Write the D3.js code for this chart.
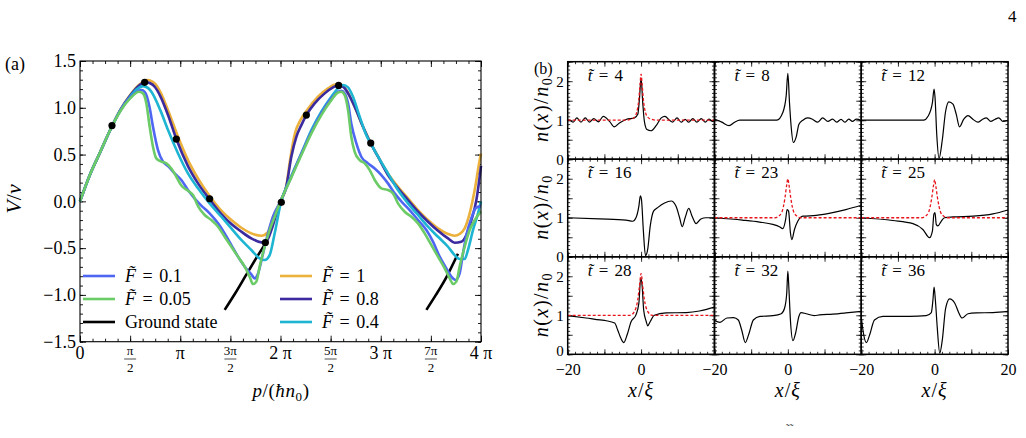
<!DOCTYPE html>
<html>
<head>
<meta charset="utf-8">
<script src="https://cdn.jsdelivr.net/npm/d3@7"></script>
<style>
body { margin: 0; background: #fff; }
svg text { font-family: "Liberation Serif", "Times New Roman", "DejaVu Serif", serif !important; fill: #000; }
</style>
</head>
<body>
<div id="chart"></div>
<script>
// panel (a): V/v against p, p is given in units of pi
const xTickLabels = ["0", "π/2", "π", "3π/2", "2 π", "5π/2", "3 π", "7π/2", "4 π"]
const yTicksA = [-1.5, -1.0, -0.5, 0.0, 0.5, 1.0, 1.5]

const F1 = [[0,0],[0.1,0.288],[0.2,0.523],[0.3,0.76],[0.4,0.975],[0.5,1.136],[0.598,1.253],[0.672,1.296],[0.745,1.26],[0.801,1.171],[0.878,0.975],[0.978,0.69],[1.077,0.441],[1.177,0.245],[1.293,0.057],[1.41,-0.1],[1.51,-0.2],[1.609,-0.282],[1.709,-0.342],[1.809,-0.367],[1.875,-0.33],[1.928,-0.16],[2.0,0.0],[2.058,0.16],[2.095,0.44],[2.145,0.73],[2.2,0.87],[2.258,0.965],[2.374,1.118],[2.474,1.207],[2.557,1.25],[2.607,1.245],[2.657,1.189],[2.74,1.011],[2.823,0.797],[2.9,0.626],[2.973,0.477],[3.072,0.299],[3.172,0.156],[3.272,0.032],[3.372,-0.093],[3.471,-0.2],[3.571,-0.289],[3.671,-0.349],[3.737,-0.367],[3.787,-0.349],[3.837,-0.289],[3.887,-0.128],[3.937,0.121],[3.987,0.441],[4.0,0.51]]
const F08 = [[0,0],[0.1,0.288],[0.2,0.523],[0.3,0.76],[0.4,0.972],[0.5,1.13],[0.598,1.245],[0.645,1.275],[0.7,1.262],[0.745,1.225],[0.801,1.125],[0.878,0.922],[0.961,0.666],[1.077,0.377],[1.177,0.192],[1.293,0.021],[1.41,-0.136],[1.51,-0.243],[1.609,-0.324],[1.709,-0.396],[1.809,-0.438],[1.849,-0.44],[1.909,-0.307],[1.96,-0.13],[2.0,0.0],[2.058,0.16],[2.108,0.477],[2.158,0.69],[2.208,0.815],[2.258,0.922],[2.341,1.047],[2.441,1.154],[2.524,1.218],[2.574,1.239],[2.624,1.225],[2.674,1.154],[2.74,1.011],[2.823,0.797],[2.9,0.619],[2.973,0.477],[3.072,0.281],[3.172,0.139],[3.272,0.014],[3.372,-0.111],[3.471,-0.218],[3.571,-0.314],[3.671,-0.396],[3.737,-0.442],[3.804,-0.431],[3.854,-0.36],[3.904,-0.2],[3.954,0.014],[4.0,0.38]]
const F04 = [[0,0],[0.1,0.288],[0.2,0.523],[0.3,0.76],[0.4,0.97],[0.5,1.12],[0.57,1.2],[0.628,1.232],[0.68,1.21],[0.712,1.171],[0.801,0.975],[0.878,0.762],[0.978,0.512],[1.077,0.299],[1.177,0.139],[1.293,-0.022],[1.41,-0.164],[1.51,-0.289],[1.609,-0.413],[1.709,-0.52],[1.792,-0.609],[1.842,-0.627],[1.892,-0.574],[1.942,-0.342],[2.0,-0.03],[2.108,0.27],[2.208,0.512],[2.308,0.762],[2.407,0.958],[2.507,1.118],[2.574,1.207],[2.624,1.243],[2.674,1.218],[2.723,1.118],[2.79,0.904],[2.856,0.708],[2.9,0.619],[2.973,0.477],[3.072,0.299],[3.172,0.121],[3.272,-0.022],[3.372,-0.146],[3.471,-0.271],[3.571,-0.378],[3.671,-0.485],[3.737,-0.574],[3.787,-0.616],[3.837,-0.616],[3.87,-0.52],[3.92,-0.307],[3.97,-0.128],[4.0,0.0]]
const F01 = [[0,0],[0.1,0.288],[0.2,0.523],[0.3,0.76],[0.4,0.965],[0.5,1.11],[0.612,1.19],[0.645,1.17],[0.668,1.12],[0.695,1.0],[0.728,0.797],[0.778,0.548],[0.828,0.424],[0.878,0.377],[0.944,0.299],[1.011,0.228],[1.077,0.121],[1.144,0.03],[1.21,-0.045],[1.293,-0.128],[1.377,-0.235],[1.443,-0.342],[1.51,-0.467],[1.576,-0.591],[1.643,-0.698],[1.709,-0.78],[1.742,-0.823],[1.776,-0.77],[1.825,-0.56],[1.875,-0.342],[1.925,-0.164],[2.0,0.0],[2.108,0.263],[2.208,0.512],[2.308,0.744],[2.407,0.94],[2.507,1.1],[2.574,1.171],[2.607,1.182],[2.64,1.154],[2.674,1.047],[2.706,0.833],[2.757,0.619],[2.806,0.477],[2.873,0.406],[2.94,0.352],[3.006,0.281],[3.072,0.192],[3.139,0.085],[3.205,0.0],[3.288,-0.093],[3.372,-0.2],[3.455,-0.307],[3.521,-0.431],[3.588,-0.591],[3.654,-0.716],[3.704,-0.805],[3.747,-0.841],[3.787,-0.77],[3.82,-0.56],[3.854,-0.36],[3.904,-0.18],[3.95,-0.07],[4.0,-0.05]]
const F005 = [[0,0],[0.1,0.288],[0.2,0.523],[0.3,0.76],[0.4,0.96],[0.5,1.1],[0.589,1.171],[0.628,1.154],[0.662,1.047],[0.695,0.797],[0.728,0.584],[0.761,0.459],[0.811,0.424],[0.861,0.406],[0.911,0.352],[0.961,0.263],[1.011,0.17],[1.077,0.114],[1.127,0.067],[1.177,-0.05],[1.244,-0.146],[1.31,-0.2],[1.377,-0.271],[1.443,-0.378],[1.51,-0.485],[1.576,-0.591],[1.643,-0.698],[1.692,-0.805],[1.726,-0.884],[1.759,-0.858],[1.792,-0.698],[1.842,-0.485],[1.892,-0.307],[1.942,-0.164],[2.0,0.0],[2.108,0.256],[2.208,0.495],[2.308,0.726],[2.407,0.922],[2.507,1.082],[2.574,1.164],[2.607,1.171],[2.64,1.136],[2.674,0.975],[2.706,0.69],[2.74,0.53],[2.79,0.441],[2.84,0.406],[2.89,0.334],[2.94,0.228],[3.006,0.139],[3.072,0.121],[3.122,0.085],[3.172,-0.022],[3.239,-0.111],[3.305,-0.164],[3.372,-0.235],[3.438,-0.342],[3.505,-0.467],[3.571,-0.591],[3.638,-0.716],[3.688,-0.823],[3.721,-0.884],[3.754,-0.858],[3.787,-0.698],[3.837,-0.485],[3.887,-0.307],[3.937,-0.2],[4.0,-0.11]]
const ground1 = [[1.443,-1.16],[1.55,-0.98],[1.65,-0.8],[1.75,-0.62],[1.862,-0.43]]
const ground2 = [[3.455,-1.16],[3.55,-1.0],[3.65,-0.82],[3.77,-0.56]]
const dotsP = [0.319, 0.645, 0.961, 1.293, 1.849, 2.008, 2.258, 2.58, 2.9]
const dotsV = [0.81, 1.272, 0.666, 0.028, -0.44, -0.01, 0.922, 1.239, 0.623]

const legendLabels = ["0.1", "0.05", "Ground state", "1", "0.8", "0.4"]

// panel (b): density n(x)/n0 at nine times
const tVals = [4, 8, 12, 16, 23, 25, 28, 32, 36]
const n4 = [[-20,1.0],[-19.5,1.0],[-18.5,0.95],[-17.5,1.06],[-16.4,0.95],[-15.2,1.06],[-14.1,0.95],[-12.9,1.04],[-11.6,0.96],[-10.3,1.1],[-8.6,0.97],[-7.3,0.83],[-5.9,0.93],[-4.1,1.02],[-1.8,1.06],[-0.9,1.15],[-0.45,1.54],[0,2.08],[0.45,1.45],[0.9,0.97],[1.6,0.76],[2.7,0.73],[4.1,0.86],[5.5,1.06],[6.5,1.1],[7.7,1.0],[8.6,0.95],[9.8,1.06],[10.9,0.95],[12,1.02],[13,0.95],[14.1,1.04],[15.2,0.95],[16.4,1.04],[17.5,0.95],[18.5,1.03],[19.5,0.97],[20,1.0]]
const n8 = [[-20,1.03],[-18,0.95],[-16,0.86],[-14.5,0.95],[-13.1,1.0],[-8,1.0],[-3,1.0],[-1.4,1.19],[-0.45,1.63],[0,2.2],[0.45,1.45],[0.9,0.84],[1.5,0.43],[2.3,0.58],[3.0,0.89],[4.1,1.0],[5.4,1.06],[6.8,1.02],[8.1,0.95],[9.5,1.06],[10.9,0.97],[12.2,1.03],[13.3,0.95],[14.5,1.02],[15.6,0.95],[16.6,1.03],[17.6,0.97],[18.7,1.03],[20,1.0]]
const n12 = [[-20,1.0],[-10,1.0],[-3,1.0],[-1.8,1.1],[-0.6,1.45],[-0.15,1.8],[0.1,1.6],[0.6,0.6],[1.2,0.02],[2.1,0.5],[3.0,1.23],[3.9,1.47],[5,1.41],[5.9,1.15],[6.8,0.83],[7.9,1.02],[9.1,1.12],[10.5,1.02],[11.8,0.95],[13,1.02],[14.1,1.06],[15.3,0.97],[16.4,1.02],[17.5,1.06],[18.6,0.97],[20,1.0]]
const n16 = [[-20,1.0],[-11.4,0.97],[-4.1,0.94],[-2.3,0.91],[-1.4,1.0],[-0.6,1.3],[-0.2,1.56],[0.1,1.47],[0.6,0.7],[1.2,0.03],[1.8,0.19],[2.5,0.79],[3.4,1.17],[4.5,1.26],[6.4,1.38],[8.2,1.43],[9.5,1.3],[10.5,1.0],[11.2,0.77],[12,1.0],[13,1.24],[13.9,1.04],[15,0.85],[16.3,0.97],[17.7,1.0],[20,1.0]]
const n23 = [[-20,1.0],[-12.4,0.94],[-7.7,0.89],[-4.1,0.83],[-2.3,0.77],[-1.4,0.72],[-0.6,0.96],[-0.2,1.21],[0.2,1.17],[0.7,0.62],[1.1,0.44],[1.8,0.7],[2.7,0.91],[4.1,1.04],[7.7,1.06],[12.2,1.13],[15.8,1.21],[20,1.32]]
const n25 = [[-20,1.0],[-11.4,0.93],[-5.9,0.85],[-3.2,0.7],[-1.4,0.49],[-0.6,0.66],[-0.2,1.09],[0.1,1.13],[0.45,0.83],[0.9,0.79],[1.8,0.91],[2.7,1.0],[5,1.02],[10.5,1.04],[15.9,1.1],[20,1.2]]
const n28 = [[-20,0.99],[-15,0.93],[-11.2,0.88],[-9.5,0.86],[-7.2,0.8],[-6.4,0.63],[-5.5,0.41],[-4.7,0.3],[-3.8,0.5],[-2.7,0.84],[-1.4,1.01],[-0.6,1.31],[-0.1,1.96],[0.3,1.74],[0.7,1.14],[1.4,0.84],[1.8,0.73],[2.5,0.84],[3.6,1.0],[6.8,1.06],[12.3,1.07],[15.9,1.11],[20,1.21]]
const n32 = [[-20,0.87],[-18.5,0.82],[-16.6,0.93],[-14.8,0.94],[-13.5,0.88],[-12.6,0.63],[-11.6,0.3],[-10.7,0.5],[-9.4,0.88],[-7.6,0.97],[-4.1,0.99],[-1.8,1.04],[-0.9,1.18],[-0.3,1.57],[0,2.13],[0.3,1.66],[0.7,0.88],[1.4,0.35],[2.1,0.54],[3.0,0.97],[3.6,1.07],[5,1.04],[7.2,0.99],[8.6,1.01],[12.2,1.03],[15.8,1.06],[20,1.1]]
const n36 = [[-20,0.97],[-19.4,0.54],[-18.6,0.3],[-17.7,0.5],[-16.4,0.88],[-14.1,0.97],[-6.8,0.97],[-2.3,0.99],[-0.9,1.07],[-0.45,1.4],[-0.15,1.72],[0.2,1.4],[0.7,0.71],[1.4,0.03],[2.1,0.37],[3,1.18],[4.1,1.42],[5.5,1.31],[6.6,1.06],[7.5,0.93],[9.1,1.04],[11.4,1.06],[15.9,1.07],[20,1.1]]
const sol4 = [[-20,1],[-4,1],[-3,1.02],[-2,1.06],[-1.2,1.2],[-0.6,1.55],[-0.3,1.9],[0,2.18],[0.3,1.9],[0.6,1.55],[1.2,1.2],[2,1.06],[3,1.02],[4,1],[20,1]]
const sol23 = [[-20,1],[-3.5,1],[-2.5,1.04],[-1.6,1.15],[-0.8,1.5],[-0.3,1.85],[0,2.0],[0.3,1.85],[0.8,1.5],[1.6,1.15],[2.5,1.04],[3.5,1],[20,1]]
const sol25 = [[-20,1],[-3.5,1],[-2.5,1.04],[-1.6,1.15],[-0.8,1.5],[-0.3,1.83],[0,1.98],[0.3,1.83],[0.8,1.5],[1.6,1.15],[2.5,1.04],[3.5,1],[20,1]]
const sol28 = [[-20,1],[-3,1],[-1.8,1.1],[-0.9,1.4],[-0.45,1.74],[0,2.07],[0.45,1.74],[0.9,1.4],[1.8,1.1],[3,1],[20,1]]

const densities = [n4, n8, n12, n16, n23, n25, n28, n32, n36]
const solitons = [sol4, null, null, null, sol23, sol25, sol28, null, null]

const width = 1026, height = 438

let svg = d3.select("#chart").append("svg")
    .attr("width", width).attr("height", height)
    .attr("viewBox", [0, 0, width, height])
    .style("display", "block")

// ---------- panel (a) ----------
const ma = {left: 80, right: 481, top: 61, bottom: 341.7}
let x = d3.scaleLinear().domain([0, 4]).range([ma.left, ma.right])
let y = d3.scaleLinear().domain([-1.5, 1.5]).range([ma.bottom, ma.top])

const seriesA = [
    {data: F1, color: "#ebb13b"},
    {data: F08, color: "#3b2b9f"},
    {data: F04, color: "#1db5d2"},
    {data: F01, color: "#4f66f2"},
    {data: F005, color: "#6bcb66"}
]

// inward ticks on all four sides
function ticksA(axisFn, scale, vals, len, transform) {
    svg.append("g")
        .attr("transform", transform)
        .call(axisFn(scale).tickValues(vals).tickSize(-len).tickFormat(""))
        .call(g => g.select(".domain").remove())
        .call(g => g.selectAll("line").attr("stroke-width", 0.9))
}
const xMinor = d3.range(0, 4.001, 0.125), xMajor = d3.range(0, 4.001, 0.5)
const yMinor = d3.range(-1.5, 1.501, 0.1), yMajor = yTicksA
ticksA(d3.axisBottom, x, xMinor, 3, `translate(0,${ma.bottom})`)
ticksA(d3.axisBottom, x, xMajor, 6, `translate(0,${ma.bottom})`)
ticksA(d3.axisTop, x, xMinor, 3, `translate(0,${ma.top})`)
ticksA(d3.axisTop, x, xMajor, 6, `translate(0,${ma.top})`)
ticksA(d3.axisLeft, y, yMinor, 3, `translate(${ma.left},0)`)
ticksA(d3.axisLeft, y, yMajor, 6, `translate(${ma.left},0)`)
ticksA(d3.axisRight, y, yMinor, 3, `translate(${ma.right},0)`)
ticksA(d3.axisRight, y, yMajor, 6, `translate(${ma.right},0)`)

// y tick labels
svg.append("g")
    .attr("transform", `translate(${ma.left},0)`)
    .call(d3.axisLeft(y).tickValues(yTicksA).tickSize(0).tickPadding(4).tickFormat(d3.format(".1f")))
    .call(g => g.select(".domain").remove())
    .call(g => g.selectAll("text").attr("font-size", 18))

// x tick labels, fractions drawn as stacked text
xTickLabels.forEach((lab, i) => {
    const px = x(i * 0.5)
    if (lab.includes("/")) {
        const [num, den] = lab.split("/")
        svg.append("text").attr("x", px).attr("y", 355).attr("text-anchor", "middle")
            .attr("font-size", 13).text(num)
        svg.append("line").attr("x1", px - 6).attr("x2", px + 6).attr("y1", 359).attr("y2", 359)
            .attr("stroke", "#000").attr("stroke-width", 0.7)
        svg.append("text").attr("x", px).attr("y", 372).attr("text-anchor", "middle")
            .attr("font-size", 13).text(den)
    } else {
        svg.append("text").attr("x", px).attr("y", 359).attr("text-anchor", "middle")
            .attr("font-size", 18).text(lab)
    }
})

let line = d3.line().x(d => x(d[0])).y(d => y(d[1])).curve(d3.curveMonotoneX)

let plotA = svg.append("g")
plotA.append("path").attr("d", line(ground1)).attr("fill", "none").attr("stroke", "#000").attr("stroke-width", 2.6)
plotA.append("path").attr("d", line(ground2)).attr("fill", "none").attr("stroke", "#000").attr("stroke-width", 2.6)
plotA.selectAll(".curve")
    .data(seriesA)
    .join("path")
    .attr("class", "curve")
    .attr("d", d => line(d.data))
    .attr("fill", "none")
    .attr("stroke", d => d.color)
    .attr("stroke-width", 2.6)
    .attr("stroke-linejoin", "round")

plotA.selectAll(".dot")
    .data(dotsP)
    .join("circle")
    .attr("class", "dot")
    .attr("cx", d => x(d))
    .attr("cy", (d, i) => y(dotsV[i]))
    .attr("r", 3.6)
    .attr("fill", "#000")

svg.append("rect")
    .attr("x", ma.left).attr("y", ma.top)
    .attr("width", ma.right - ma.left).attr("height", ma.bottom - ma.top)
    .attr("fill", "none").attr("stroke", "#000").attr("stroke-width", 1.1)

// legend
const legendColors = ["#4f66f2", "#6bcb66", "#000", "#ebb13b", "#3b2b9f", "#1db5d2"]
legendLabels.forEach((lab, i) => {
    const col = Math.floor(i / 3), row = i % 3
    const lx = col === 0 ? 83 : 280, ly = 276 + row * 23
    svg.append("line").attr("x1", lx).attr("x2", lx + 32).attr("y1", ly).attr("y2", ly)
        .attr("stroke", legendColors[i]).attr("stroke-width", 2.6)
    let t = svg.append("text").attr("x", lx + 42).attr("y", ly + 6).attr("font-size", 18)
    if (lab === "Ground state") {
        t.text(lab)
    } else {
        t.attr("word-spacing", 2)
        t.append("tspan").attr("font-style", "italic").text("F\u0303")
        t.append("tspan").text(" = " + lab)
    }
})

svg.append("text").attr("x", 5).attr("y", 70).attr("font-size", 18).text("(a)")

let vlab = svg.append("text").attr("transform", "translate(21,199) rotate(-90)")
    .attr("text-anchor", "middle").attr("font-size", 22)
vlab.append("tspan").attr("font-style", "italic").text("V")
vlab.append("tspan").text("/")
vlab.append("tspan").attr("font-style", "italic").text("v")

let plab = svg.append("text").attr("x", 281).attr("y", 397).attr("text-anchor", "middle")
    .attr("font-size", 19).attr("letter-spacing", 0.6)
plab.append("tspan").attr("font-style", "italic").text("p")
plab.append("tspan").text("/(")
plab.append("tspan").attr("font-style", "italic").text("ħn")
plab.append("tspan").attr("font-size", 13).attr("dy", 4).text("0")
plab.append("tspan").attr("dy", -4).text(")")

// ---------- panel (b) ----------
const mb = {left: 567.7, right: 1008, top: 61.7, bottom: 354.3}
const cellW = (mb.right - mb.left) / 3, cellH = (mb.bottom - mb.top) / 3

const bxMinor = d3.range(-20, 20.01, 2), bxMajor = d3.range(-20, 20.01, 10)
const byMinor = d3.range(0, 2.501, 0.1), byMajor = d3.range(0, 2.501, 0.5)

tVals.forEach((tv, i) => {
    const col = i % 3, row = Math.floor(i / 3)
    const x0 = mb.left + col * cellW, y0 = mb.top + row * cellH
    let xb = d3.scaleLinear().domain([-20, 20]).range([x0, x0 + cellW])
    let yb = d3.scaleLinear().domain([0, 2.5]).range([y0 + cellH, y0])
    let g = svg.append("g")

    const tk = (axisFn, scale, vals, len, tr) => g.append("g").attr("transform", tr)
        .call(axisFn(scale).tickValues(vals).tickSize(-len).tickFormat(""))
        .call(a => a.select(".domain").remove())
        .call(a => a.selectAll("line").attr("stroke-width", 0.8))
    tk(d3.axisBottom, xb, bxMinor, 2.5, `translate(0,${y0 + cellH})`)
    tk(d3.axisBottom, xb, bxMajor, 5, `translate(0,${y0 + cellH})`)
    tk(d3.axisTop, xb, bxMinor, 2.5, `translate(0,${y0})`)
    tk(d3.axisTop, xb, bxMajor, 5, `translate(0,${y0})`)
    tk(d3.axisLeft, yb, byMinor, 2.5, `translate(${x0},0)`)
    tk(d3.axisLeft, yb, byMajor, 5, `translate(${x0},0)`)
    tk(d3.axisRight, yb, byMinor, 2.5, `translate(${x0 + cellW},0)`)
    tk(d3.axisRight, yb, byMajor, 5, `translate(${x0 + cellW},0)`)

    let lineB = d3.line().x(d => xb(d[0])).y(d => yb(d[1])).curve(d3.curveMonotoneX)
    g.append("path").attr("d", lineB(densities[i])).attr("fill", "none")
        .attr("stroke", "#000").attr("stroke-width", 1.2)
    if (solitons[i]) {
        g.append("path").attr("d", lineB(solitons[i])).attr("fill", "none")
            .attr("stroke", "#e8141b").attr("stroke-width", 1.3).attr("stroke-dasharray", "3,2")
    }

    g.append("rect").attr("x", x0).attr("y", y0).attr("width", cellW).attr("height", cellH)
        .attr("fill", "none").attr("stroke", "#000").attr("stroke-width", 1.5)

    let tl = g.append("text").attr("x", x0 + 20).attr("y", y0 + 19).attr("font-size", 17)
        .attr("word-spacing", 2)
    tl.append("tspan").attr("font-style", "italic").text("t\u0303")
    tl.append("tspan").text(" = " + tv)

    if (col === 0) {
        g.append("g").attr("transform", `translate(${x0},0)`)
            .call(d3.axisLeft(yb).tickValues([0, 1, 2]).tickSize(0).tickPadding(4).tickFormat(d3.format("d")))
            .call(a => a.select(".domain").remove())
            .call(a => a.selectAll("text").attr("font-size", 15))
            // lift the bottom "0" a little so it clears the x labels below
            .call(a => a.selectAll(".tick").filter(d => d === 0 && row === 2).select("text").attr("dy", "0.1em"))
        let nl = g.append("text")
            .attr("transform", `translate(548,${y0 + cellH / 2 - 1}) rotate(-90)`)
            .attr("text-anchor", "middle").attr("font-size", 20).attr("letter-spacing", 1.5)
        nl.append("tspan").attr("font-style", "italic").text("n")
        nl.append("tspan").text("(")
        nl.append("tspan").attr("font-style", "italic").text("x")
        nl.append("tspan").text(")/")
        nl.append("tspan").attr("font-style", "italic").text("n")
        nl.append("tspan").attr("font-size", 14).attr("dy", 4).text("0")
    }
    if (row === 2) {
        const labs = col === 2 ? [-20, 0, 20] : [-20, 0]
        g.append("g").attr("transform", `translate(0,${y0 + cellH})`)
            .call(d3.axisBottom(xb).tickValues(labs).tickSize(0).tickPadding(9).tickFormat(d3.format("d")))
            .call(a => a.select(".domain").remove())
            .call(a => a.selectAll("text").attr("font-size", 16))
        let xl = g.append("text").attr("x", x0 + cellW / 2).attr("y", 397)
            .attr("text-anchor", "middle").attr("font-size", 20).attr("letter-spacing", 1)
        xl.append("tspan").attr("font-style", "italic").text("x")
        xl.append("tspan").text("/")
        xl.append("tspan").attr("font-style", "italic").text("ξ")
    }
})

svg.append("text").attr("x", 534).attr("y", 74).attr("font-size", 16).text("(b)")
svg.append("text").attr("x", 1008).attr("y", 22).attr("font-size", 17).text("4")
svg.append("text").attr("x", 786).attr("y", 432).attr("font-size", 11).text("˜˜")
</script>
</body>
</html>
